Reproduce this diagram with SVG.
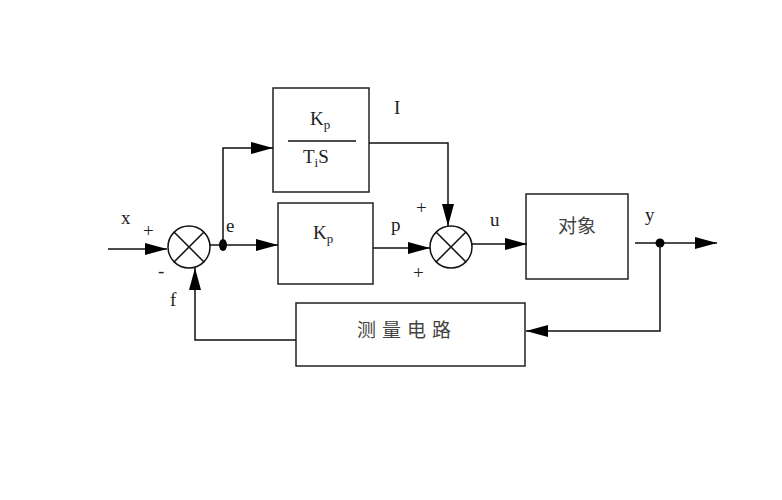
<svg xmlns="http://www.w3.org/2000/svg" width="782" height="500" viewBox="0 0 782 500">
<style>
.box{fill:#fff;stroke:#222;stroke-width:1.5}
.ln{fill:none;stroke:#111;stroke-width:1.5}
.t{font-family:"Liberation Serif","Times New Roman",serif;font-size:19px;fill:#222}
.s{font-size:13px}
.cn{font-family:"Noto Sans CJK SC","Noto Sans CJK JP",sans-serif;font-size:19px;fill:#444}
</style>
<defs>
<marker id="ar" viewBox="0 0 22 12" refX="22" refY="6" markerWidth="22" markerHeight="12" markerUnits="userSpaceOnUse" orient="auto">
<path d="M0,0 L22,6 L0,12 Z" fill="#000"/>
</marker>
</defs>
<rect width="782" height="500" fill="#fff"/>
<g id="sum1">
<circle cx="189" cy="247" r="21" class="ln"/>
<path d="M174,232 L204,262 M204,232 L174,262" class="ln"/>
</g>
<g id="sum2">
<circle cx="451" cy="247" r="21" class="ln"/>
<path d="M436,232 L466,262 M466,232 L436,262" class="ln"/>
</g>
<g id="integral">
<rect x="273" y="88" width="96" height="104" class="box"/>
<text x="310" y="125" class="t">K<tspan class="s" dy="4">p</tspan></text>
<line x1="288" y1="141" x2="356" y2="141" class="ln"/>
<text x="303" y="163" class="t">T<tspan class="s" dy="4">i</tspan><tspan dy="-4">S</tspan></text>
</g>
<g id="proportional">
<rect x="278" y="203" width="95" height="81" class="box"/>
<text x="313" y="239" class="t">K<tspan class="s" dy="4">p</tspan></text>
</g>
<g id="plant">
<rect x="526" y="194" width="102" height="85" class="box"/>
<text x="577" y="233" class="cn" text-anchor="middle">对象</text>
</g>
<g id="measure">
<rect x="296" y="303" width="229" height="63" class="box"/>
<text x="407" y="337" class="cn" text-anchor="middle" letter-spacing="6">测量电路</text>
</g>
<g id="connectors">
<line x1="108" y1="249" x2="167" y2="249" class="ln" marker-end="url(#ar)"/>
<ellipse cx="223" cy="245" rx="4" ry="6" fill="#000"/>
<line x1="210" y1="245" x2="278" y2="245" class="ln" marker-end="url(#ar)"/>
<polyline points="223,245 223,148 273,148" class="ln" marker-end="url(#ar)"/>
<polyline points="369,143 448,143 448,226" class="ln" marker-end="url(#ar)"/>
<line x1="373" y1="248" x2="430" y2="248" class="ln" marker-end="url(#ar)"/>
<line x1="472" y1="244" x2="527" y2="244" class="ln" marker-end="url(#ar)"/>
<line x1="635" y1="243" x2="717" y2="243" class="ln" marker-end="url(#ar)"/>
<circle cx="660" cy="243" r="4.5" fill="#000"/>
<polyline points="660,243 660,331 526,331" class="ln" marker-end="url(#ar)"/>
<polyline points="296,340 195,340 195,268" class="ln" marker-end="url(#ar)"/>
</g>
<g id="labels">
<text x="121" y="224" class="t">x</text>
<text x="143" y="237" class="t">+</text>
<text x="158" y="277" class="t">-</text>
<text x="226" y="232" class="t">e</text>
<text x="170" y="306" class="t">f</text>
<text x="394" y="114" class="t">I</text>
<text x="391" y="231" class="t">p</text>
<text x="416" y="214" class="t">+</text>
<text x="413" y="279" class="t">+</text>
<text x="490" y="226" class="t">u</text>
<text x="645" y="221" class="t">y</text>
</g>
</svg>
